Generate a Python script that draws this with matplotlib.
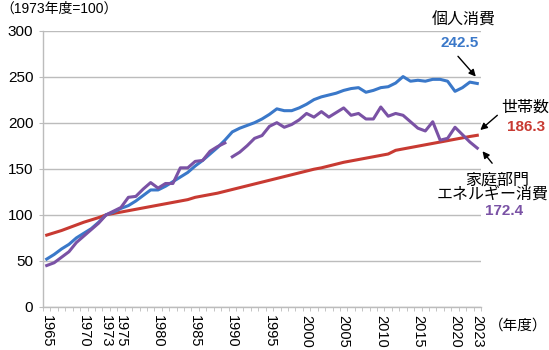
import numpy as np
import matplotlib
matplotlib.use('Agg')
import matplotlib.pyplot as plt

plt.rcParams['font.family'] = ['Liberation Sans', 'Noto Sans CJK JP', 'DejaVu Sans']

years = np.arange(1965, 2024)

# 個人消費 (1973=100)
consumption = [52, 57, 63, 68, 75, 80, 85, 92, 100, 103,
               107, 110, 115, 121, 127, 127, 131, 136, 141, 146,
               153, 159, 166, 173, 181, 190, 194, 197, 200, 204,
               209, 215, 213, 213, 216, 220, 225, 228, 230, 232,
               235, 237, 238, 233, 235, 238, 239, 243, 250, 245,
               246, 245, 247, 247, 245, 234, 238, 244, 242.5]

# 世帯数 (1973=100)
households = [78, 80.5, 83, 86, 89, 92, 94.5, 97, 100, 101.5,
              103, 104.5, 106, 107.5, 109, 110.5, 112, 113.5, 115, 116.5,
              119, 120.5, 122, 123.5, 125.5, 127.5, 129.5, 131.5, 133.5, 135.5,
              137.5, 139.5, 141.5, 143.5, 145.5, 147.5, 149.5, 151, 153, 155,
              157, 158.5, 160, 161.5, 163, 164.5, 166, 170, 171.5, 173,
              174.5, 176, 177.5, 179, 180.5, 182, 183.5, 185, 186.3]

# 家庭部門エネルギー消費 (1973=100), break in series between 1989 and 1990
energy_years_old = np.arange(1965, 1990)
energy_old = [45, 48, 54, 60, 70, 77, 84, 91, 100, 104,
              108, 119, 120, 128, 135, 129, 134, 134, 151, 151,
              158, 159, 169, 174, 178]
energy_years_new = np.arange(1990, 2024)
energy_new = [163, 168, 175, 183, 186, 196, 200, 195, 198, 203,
              210, 206, 212, 206, 211, 216, 208, 210, 204, 204,
              217, 207, 210, 208, 201, 194, 191, 201, 181, 183,
              195, 187, 179, 172.4]

tick_years = [1965, 1970, 1973, 1975, 1980, 1985, 1990, 1995,
              2000, 2005, 2010, 2015, 2020, 2023]

blue = '#3a78c9'
red = '#c83a32'
purple = '#7a52a5'
grid_gray = '#bcbcbc'

W, H = 549, 350
fig = plt.figure(figsize=(W / 100, H / 100), dpi=100)
ax = fig.add_axes([43 / W, 1 - 307 / H, (481 - 43) / W, (307 - 30.5) / H])

ax.plot(years, households, color=red, lw=2.2, zorder=3)
ax.plot(years, consumption, color=blue, lw=2.2, zorder=4)
ax.plot(energy_years_old, energy_old, color=purple, lw=2.2, zorder=5)
ax.plot(energy_years_new, energy_new, color=purple, lw=2.2, zorder=5)

ax.set_xlim(1964.5, 2023.5)
ax.set_ylim(0, 300)
ax.set_yticks(np.arange(0, 301, 50))
ax.yaxis.grid(True, color=grid_gray, lw=1)
ax.set_axisbelow(True)
for s in ['top', 'right']:
    ax.spines[s].set_visible(False)
for s in ['left', 'bottom']:
    ax.spines[s].set_color(grid_gray)
    ax.spines[s].set_linewidth(1)

ax.set_xticks(tick_years)
ax.set_xticklabels([str(y) for y in tick_years], rotation=-90, fontsize=10.5)
ax.set_xticks(np.arange(1964.5, 2024, 1), minor=True)
ax.tick_params(axis='x', which='major', length=0, pad=6)
ax.tick_params(axis='x', which='minor', length=3, color=grid_gray)
ax.tick_params(axis='y', length=3, color=grid_gray, labelsize=11, pad=4)

def px(x, y):
    return x / W, 1 - y / H

fig.text(*px(0, 9), '（1973年度=100）', fontsize=10, ha='left', va='center')
fig.text(*px(547, 326), '（年度）', fontsize=10.5, ha='right', va='center')

fig.text(*px(464, 20), '個人消費', fontsize=11.5, ha='center', va='center')
fig.text(*px(460, 43), '242.5', fontsize=11, color=blue, fontweight='bold', ha='center', va='center')
fig.text(*px(525, 107), '世帯数', fontsize=11.5, ha='center', va='center')
fig.text(*px(526, 127), '186.3', fontsize=11, color=red, fontweight='bold', ha='center', va='center')
fig.text(*px(497, 180), '家庭部門', fontsize=11.5, ha='center', va='center')
fig.text(*px(493, 194), 'エネルギー消費', fontsize=11.5, ha='center', va='center')
fig.text(*px(504, 211), '172.4', fontsize=11, color=purple, fontweight='bold', ha='center', va='center')

arrow = dict(arrowstyle='-|>', color='black', lw=1, mutation_scale=10, shrinkA=0, shrinkB=0)
ax.annotate('', xy=(2022.8, 250), xytext=(2020.4, 272), arrowprops=arrow, annotation_clip=False)
ax.annotate('', xy=(2023.4, 192), xytext=(2025.7, 208), arrowprops=arrow, annotation_clip=False)
ax.annotate('', xy=(2023.7, 169), xytext=(2025.0, 156), arrowprops=arrow, annotation_clip=False)

fig.savefig('out.png', dpi=100)
